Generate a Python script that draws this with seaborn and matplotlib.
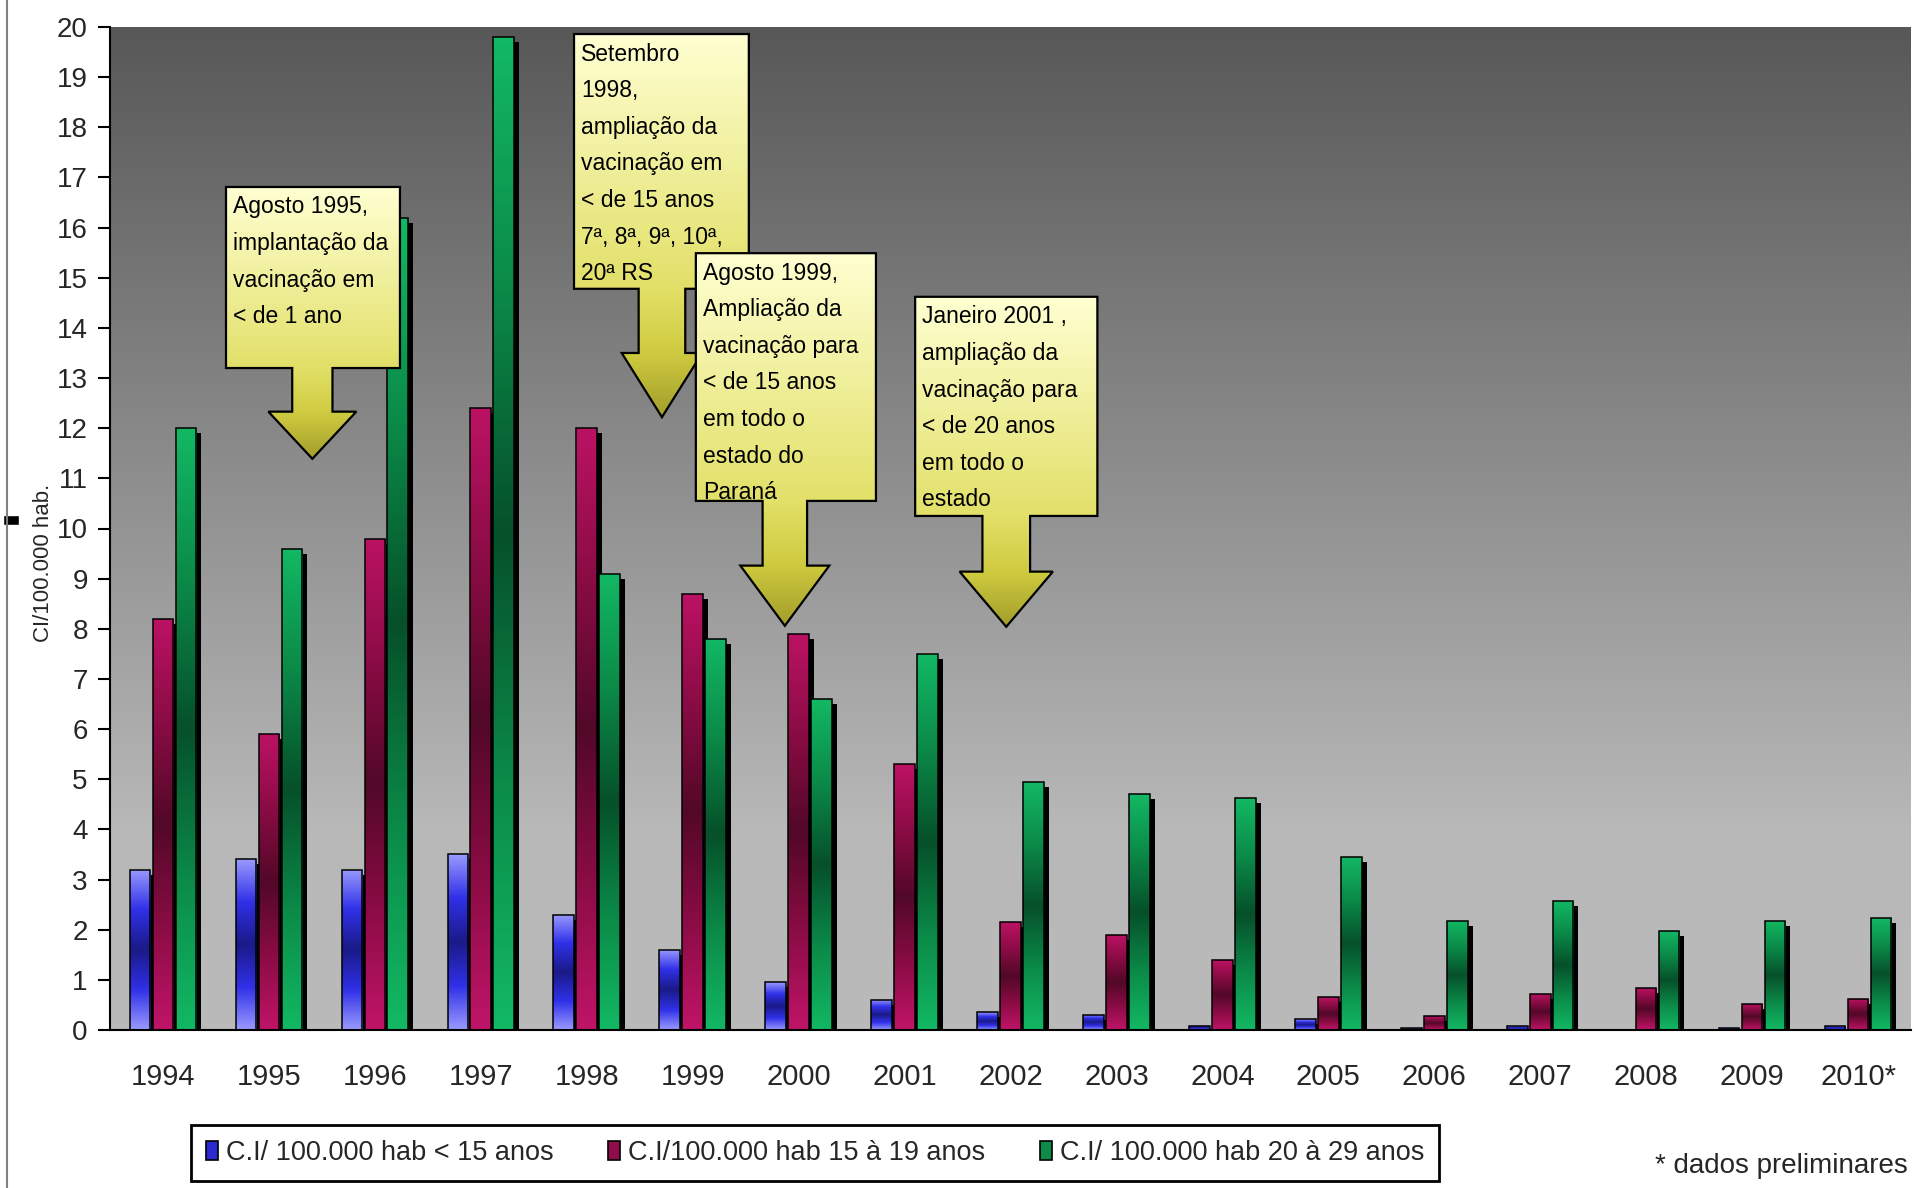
import numpy as np
import pandas as pd
import matplotlib
matplotlib.use("Agg")
import matplotlib.pyplot as plt
import matplotlib.transforms as mtransforms
from matplotlib.colors import LinearSegmentedColormap
from matplotlib.patches import Polygon, Rectangle, Patch
from matplotlib.lines import Line2D
import seaborn as sns

# dados (taxas por 100.000 hab.)
anos = ["1994", "1995", "1996", "1997", "1998", "1999", "2000", "2001", "2002",
        "2003", "2004", "2005", "2006", "2007", "2008", "2009", "2010*"]
menor_15 = [3.2, 3.4, 3.2, 3.5, 2.3, 1.6, 0.95, 0.6, 0.35, 0.3, 0.08, 0.21, 0.03,
            0.07, 0.0, 0.03, 0.07]
de_15_19 = [8.2, 5.9, 9.8, 12.4, 12.0, 8.7, 7.9, 5.3, 2.15, 1.9, 1.4, 0.65, 0.27,
            0.72, 0.84, 0.52, 0.62]
de_20_29 = [12.0, 9.6, 16.2, 19.8, 9.1, 7.8, 6.6, 7.5, 4.95, 4.7, 4.62, 3.45, 2.18,
            2.58, 1.98, 2.18, 2.23]
grupos = ["C.I/ 100.000 hab < 15 anos", "C.I/100.000 hab 15 à 19 anos",
          "C.I/ 100.000 hab 20 à 29 anos"]

# caixas de anotação: texto, caixa (x0, x1, topo, base), seta (x, y ponta, meia haste, meia cabeça, altura cabeça)
notas_texto = [
    ["Agosto 1995,", "implantação da", "vacinação em", "< de 1 ano"],
    ["Setembro", "1998,", "ampliação da", "vacinação em", "< de 15 anos",
     "7ª, 8ª, 9ª, 10ª,", "20ª RS"],
    ["Agosto 1999,", "Ampliação da", "vacinação para", "< de 15 anos",
     "em todo o", "estado do", "Paraná"],
    ["Janeiro 2001 ,", "ampliação da", "vacinação para", "< de 20 anos",
     "em todo o", "estado"],
]
notas_caixa = [(0.595, 2.237, 16.81, 13.20), (3.88, 5.53, 19.86, 14.78),
               (5.03, 6.73, 15.49, 10.55), (7.10, 8.82, 14.62, 10.25)]
notas_seta = [(1.41, 11.39, 0.19, 0.415, 0.94), (4.71, 12.22, 0.22, 0.38, 1.28),
              (5.87, 8.06, 0.21, 0.42, 1.20), (7.96, 8.04, 0.225, 0.44, 1.10)]

FONTE = ["Liberation Sans", "DejaVu Sans"]

sns.set_style("white")
plt.rcParams["font.family"] = FONTE

df = pd.DataFrame({
    "ano": anos * 3,
    "grupo": [grupos[0]] * len(anos) + [grupos[1]] * len(anos) + [grupos[2]] * len(anos),
    "valor": menor_15 + de_15_19 + de_20_29,
})

fig = plt.figure(figsize=(19.15, 11.88), dpi=100)
ax = fig.add_axes([110 / 1915, 1 - 1030 / 1188, 1801 / 1915, 1003 / 1188])

# fundo em degradê
fundo = LinearSegmentedColormap.from_list("fundo", [(0, "#585858"), (0.8, "#b8b8b8"), (1, "#bababa")])
ax.imshow(np.linspace(0, 1, 256).reshape(-1, 1), cmap=fundo, extent=(0, 1, 0, 1),
          transform=ax.transAxes, aspect="auto", zorder=-10, interpolation="bilinear")

cores_base = ["#2a2ad0", "#900c4c", "#0c8c48"]
sns.barplot(data=df, x="ano", y="valor", hue="grupo", hue_order=grupos, order=anos,
            palette=cores_base, width=0.65, gap=0.1, saturation=1, legend=False,
            edgecolor="black", linewidth=1.1, ax=ax)

degrades = [
    ["#9a9aff", "#3030e8", "#1a1a88", "#3030e8", "#9a9aff"],
    ["#bc1264", "#8a0c44", "#520828", "#8a0c44", "#c01468"],
    ["#12b864", "#0b8a48", "#06502a", "#0b8a48", "#12b864"],
]
sombra = ax.transData + mtransforms.ScaledTranslation(5 / 100, -5 / 100, fig.dpi_scale_trans)
grad = np.linspace(0, 1, 256).reshape(-1, 1)
for cont, cores in zip(ax.containers, degrades):
    cmap = LinearSegmentedColormap.from_list("b", cores)
    for p in cont.patches:
        x, w, h = p.get_x(), p.get_width(), p.get_height()
        if h <= 0:
            p.set_visible(False)
            continue
        ax.add_patch(Rectangle((x, 0), w, h, transform=sombra, facecolor="black",
                               edgecolor="none", zorder=2))
        img = ax.imshow(grad, cmap=cmap, extent=(x, x + w, 0, h), aspect="auto",
                        zorder=3, interpolation="bilinear")
        img.set_clip_path(p)
        p.set_facecolor("none")
        p.set_zorder(4)

# caixas com seta
for i, (linhas, caixa, seta) in enumerate(zip(notas_texto, notas_caixa, notas_seta)):
    x0, x1, yt, yb = caixa
    xt, ytip, sh, hh, hcab = seta
    ys = ytip + hcab
    pts = [(x0, yt), (x1, yt), (x1, yb), (xt + sh, yb), (xt + sh, ys), (xt + hh, ys),
           (xt, ytip), (xt - hh, ys), (xt - sh, ys), (xt - sh, yb), (x0, yb)]
    z = 10 + i
    forma = Polygon(pts, closed=True, facecolor="none", edgecolor="black",
                    linewidth=1.6, zorder=z + 0.1)
    ax.add_patch(forma)
    pb = (yt - yb) / (yt - ytip)
    cm = LinearSegmentedColormap.from_list("c", [(0, "#ffffd2"), (pb, "#e2e068"),
                                                 ((pb + 1) / 2, "#cfcb40"), (1, "#a29e2a")])
    img = ax.imshow(grad, cmap=cm, extent=(min(x0, xt - hh), max(x1, xt + hh), ytip, yt),
                    aspect="auto", zorder=z, interpolation="bilinear")
    img.set_clip_path(forma)
    for k, linha in enumerate(linhas):
        tr = mtransforms.offset_copy(ax.transData, fig=fig, x=7, y=-(20 + 36.6 * k), units="dots")
        t = ax.text(x0, yt, linha, transform=tr, fontsize=16.5, va="center", ha="left",
                    color="black", zorder=z + 0.2, clip_on=True)
        t.set_clip_path(forma)

ax.set_xlim(-0.5, len(anos) - 0.5)
ax.set_ylim(0, 20)
ax.set_yticks(range(0, 21))
ax.set_xticks(range(len(anos)))
ax.set_xticklabels(anos, fontsize=21)
ax.set_xticks(np.arange(-0.5, len(anos), 1), minor=True)
ax.tick_params(axis="x", which="major", length=0, pad=24)
ax.tick_params(axis="x", which="minor", length=9, width=1.5, color="black", direction="out")
ax.tick_params(axis="y", length=9, width=1.5, color="black", direction="out", pad=7,
               labelsize=20, left=True)
ax.set_xlabel("")
ax.set_ylabel("CI/100.000 hab.", fontsize=16)
ax.yaxis.set_label_coords(-0.031, 0.466)
for s in ["top", "right"]:
    ax.spines[s].set_visible(False)
for s in ["left", "bottom"]:
    ax.spines[s].set_color("black")
    ax.spines[s].set_linewidth(1.5)
    ax.spines[s].set_zorder(20)

handles = [Patch(facecolor=c, edgecolor="black", linewidth=1.2) for c in cores_base]
leg = fig.legend(handles, grupos, loc="center", bbox_to_anchor=(815 / 1915, 1 - 1153 / 1188),
                 ncol=3, frameon=True, fancybox=False, framealpha=1, edgecolor="black",
                 prop={"size": 19.5}, handlelength=0.45, handleheight=0.75,
                 handletextpad=0.3, columnspacing=2.0, borderpad=0.55)
leg.get_frame().set_linewidth(2)

fig.text(1908 / 1915, 1 - 1166 / 1188, "* dados preliminares", ha="right", va="center",
         fontsize=20)

# borda da planilha à esquerda
fig.add_artist(Line2D([7 / 1915, 7 / 1915], [0, 1], color="#808080", linewidth=1.5))
fig.add_artist(Rectangle((3 / 1915, 1 - 525 / 1188), 16 / 1915, 10 / 1188,
                         facecolor="black", transform=fig.transFigure))

fig.savefig("out.png", dpi=100)
